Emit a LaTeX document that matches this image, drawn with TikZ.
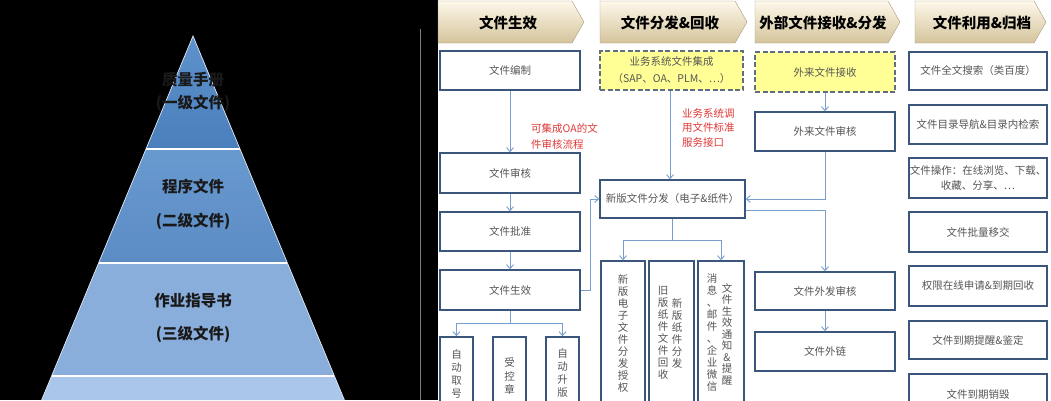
\documentclass[tikz,border=0pt]{standalone}
\usepackage{fontspec}
\setmainfont{Noto Sans CJK SC}
\usetikzlibrary{arrows.meta}
\definecolor{boxc}{RGB}{58,86,124}
\definecolor{connc}{RGB}{120,158,205}
\definecolor{txtc}{RGB}{85,85,85}
\definecolor{redc}{RGB}{225,55,55}
\definecolor{yelc}{RGB}{255,255,150}
\definecolor{dashc}{RGB}{95,110,128}
\definecolor{hdtop}{RGB}{254,248,234}
\definecolor{hdbot}{RGB}{212,196,156}
\definecolor{pyA}{RGB}{93,146,204}
\definecolor{pyAb}{RGB}{74,127,188}
\definecolor{pyB}{RGB}{104,153,207}
\definecolor{pyBb}{RGB}{92,140,196}
\definecolor{pyC}{RGB}{138,174,219}
\definecolor{pyD}{RGB}{170,198,234}
\tikzset{
  box/.style={draw=boxc, line width=1.5pt, fill=white, text=txtc, inner sep=0pt,
    font=\fontsize{10.5}{15}\selectfont, align=center},
  ybox/.style={box, fill=yelc, draw=dashc, dash pattern=on 5pt off 2.5pt, line width=1.8pt},
  vtxt/.style={text=txtc, inner sep=0pt, align=center, font=\fontsize{10.5}{12}\selectfont},
  conn/.style={draw=connc, line width=0.9pt, -{Straight Barb[length=4pt,width=7pt]}},
  hdr/.style={font=\fontsize{14.5}{16}\bfseries, text=black, inner sep=0pt},
  redlbl/.style={text=redc, inner sep=0pt, align=left},
  pyt/.style={font=\fontsize{15.5}{20}\bfseries, text=black!90, inner sep=0pt, align=center}
}
\begin{document}
\begin{tikzpicture}[x=1pt,y=-1pt]
\useasboundingbox (0,0) rectangle (1051,400);
\begin{scope}
\clip (0,0) rectangle (1051,400);
\fill[black] (0,0) rectangle (1051,400);
\fill[white] (438,0) rectangle (1051,400);
\draw[gray, line width=1pt] (420,29) -- (420,400);
% pyramid
\shade[top color=pyA, bottom color=pyAb] (193,36) -- (240,149) -- (146,149) -- cycle;
\shade[top color=pyB, bottom color=pyBb] (146,149) -- (240,149) -- (287.4,263) -- (98.6,263) -- cycle;
\fill[pyC] (98.6,263) -- (287.4,263) -- (334.4,376) -- (51.6,376) -- cycle;
\fill[pyD] (51.6,376) -- (334.4,376) -- (344.4,400) -- (41.6,400) -- cycle;
\draw[white, line width=2pt] (146,149) -- (240,149) (98.6,263) -- (287.4,263) (51.6,376) -- (334.4,376);
\draw[white!80!pyB, line width=0.7pt] (41.6,400) -- (193,36) -- (344.4,400);
\node[pyt] (p1a) at (193,80) {质量手册};
\node[pyt] (p1b) at (193,103) {(一级文件)};
\node[pyt] (p2a) at (193,187) {程序文件};
\node[pyt] (p2b) at (193,221) {(二级文件)};
\node[pyt] (p3a) at (193,301) {作业指导书};
\node[pyt] (p3b) at (193,334) {(三级文件)};
% headers
\foreach \xa/\xb in {438/584, 600/747, 755/900, 915/1046}{
  \shade[top color=hdtop, bottom color=hdbot, draw=hdbot!80!black, line width=0.4pt]
    (\xa,1) -- (\xb-12,1) -- (\xb,22) -- (\xb-12,43) -- (\xa,43) -- cycle;
}
\node[hdr] (h1) at (508,23) {文件生效};
\node[hdr] (h2) at (670,23) {文件分发\&回收};
\node[hdr] (h3) at (823,23) {外部文件接收\&分发};
\node[hdr] (h4) at (982,23) {文件利用\&归档};
% column 1
\node[box, minimum width=140pt, minimum height=39pt] (c1a) at (510,70.5) {文件编制};
\node[box, minimum width=140pt, minimum height=40pt] (c1b) at (510,173) {文件审核};
\node[box, minimum width=140pt, minimum height=39pt] (c1c) at (510,231.5) {文件批准};
\node[box, minimum width=140pt, minimum height=40pt] (c1d) at (510,290) {文件生效};
\node[box, minimum width=33pt, minimum height=82pt] (v1) at (456.5,378) {};
\node[box, minimum width=33pt, minimum height=82pt] (v2) at (509.5,378) {};
\node[box, minimum width=33pt, minimum height=82pt] (v3) at (562.5,378) {};
\node[vtxt, font=\fontsize{10.5}{13}\selectfont] (v1t) at (456.5,373.5) {自\\动\\取\\号};
\node[vtxt, font=\fontsize{10.5}{13.5}\selectfont] (v2t) at (509.5,376) {受\\控\\章};
\node[vtxt, font=\fontsize{10.5}{13}\selectfont] (v3t) at (562.5,373.5) {自\\动\\升\\版};
\node[redlbl, anchor=north west, font=\fontsize{10.5}{16}\selectfont] (r1) at (531,123) {可集成OA的文\\件审核流程};
% column 2
\node[ybox, minimum width=143pt, minimum height=39pt, font=\fontsize{10.5}{17}\selectfont] (y1) at (671.5,70.5) {业务系统文件集成\\（SAP、OA、PLM、…）};
\node[box, minimum width=145pt, minimum height=38pt] (xb) at (672.5,199) {新版文件分发（电子\&纸件）};
\node[box, minimum width=44pt, minimum height=146pt, font=\fontsize{10.5}{12}\selectfont] (vA) at (623,334) {新\\版\\电\\子\\文\\件\\分\\发\\授\\权};
\node[box, minimum width=45pt, minimum height=146pt] (vB) at (671.5,334) {};
\node[box, minimum width=46pt, minimum height=146pt] (vC) at (721,334) {};
\node[vtxt] (vB1) at (677,333) {新\\版\\纸\\件\\分\\发};
\node[vtxt] (vB2) at (663,333) {旧\\版\\纸\\件\\文\\件\\回\\收};
\node[vtxt, font=\fontsize{10.5}{11.5}\selectfont] (vC1) at (727,334) {文\\件\\生\\效\\通\\知\\\&\\提\\醒};
\node[vtxt] (vC2) at (712,333) {消\\息\\、\\邮\\件\\、\\企\\业\\微\\信};
\node[redlbl, anchor=north west, font=\fontsize{10.5}{14.5}\selectfont] (r2) at (682,108) {业务系统调\\用文件标准\\服务接口};
% column 3
\node[ybox, minimum width=140pt, minimum height=40pt] (y2) at (825,72) {外来文件接收};
\node[box, minimum width=140pt, minimum height=39pt] (e1) at (825,131.5) {外来文件审核};
\node[box, minimum width=140pt, minimum height=38pt] (e2) at (825,291) {文件外发审核};
\node[box, minimum width=140pt, minimum height=39pt] (e3) at (825,351.5) {文件外链};
% column 4
\node[box, minimum width=138pt, minimum height=38pt] (u1) at (978,71) {文件全文搜索（类百度）};
\node[box, minimum width=138pt, minimum height=39pt] (u2) at (978,124.5) {文件目录导航\&目录内检索};
\node[box, minimum width=138pt, minimum height=40pt] (u3) at (978,178) {文件操作：在线浏览、下载、\\收藏、分享、…};
\node[box, minimum width=138pt, minimum height=40pt] (u4) at (978,232) {文件批量移交};
\node[box, minimum width=138pt, minimum height=40pt] (u5) at (978,286) {权限在线申请\&到期回收};
\node[box, minimum width=138pt, minimum height=38pt] (u6) at (978,340) {文件到期提醒\&鉴定};
\node[box, minimum width=138pt, minimum height=40pt] (u7) at (978,394) {文件到期销毁};
% connectors
\draw[conn] (c1a) -- (c1b);
\draw[conn] (c1b) -- (c1c);
\draw[conn] (c1c) -- (c1d);
\draw[conn] (c1d.south) -- ++(0,13) -| (v1.north);
\draw[conn] (c1d.south) -- ++(0,13) -| (v3.north);
\draw[conn] (c1d.east) -- ++(10,0) |- (xb.west);
\draw[conn] (y1.south -| 670,0) -- (xb.north -| 670,0);
\draw[conn] (xb.south) -- ++(0,22) -| (vA.north);
\draw[conn] (xb.south) -- ++(0,22) -| (vC.north);
\draw[conn] (y2) -- (e1);
\draw[conn] (e1.south) |- (xb.east);
\draw[conn] ([yshift=-11pt]xb.east) -| (e2.north);
\draw[conn] (e2) -- (e3);
\end{scope}
\end{tikzpicture}
\end{document}
